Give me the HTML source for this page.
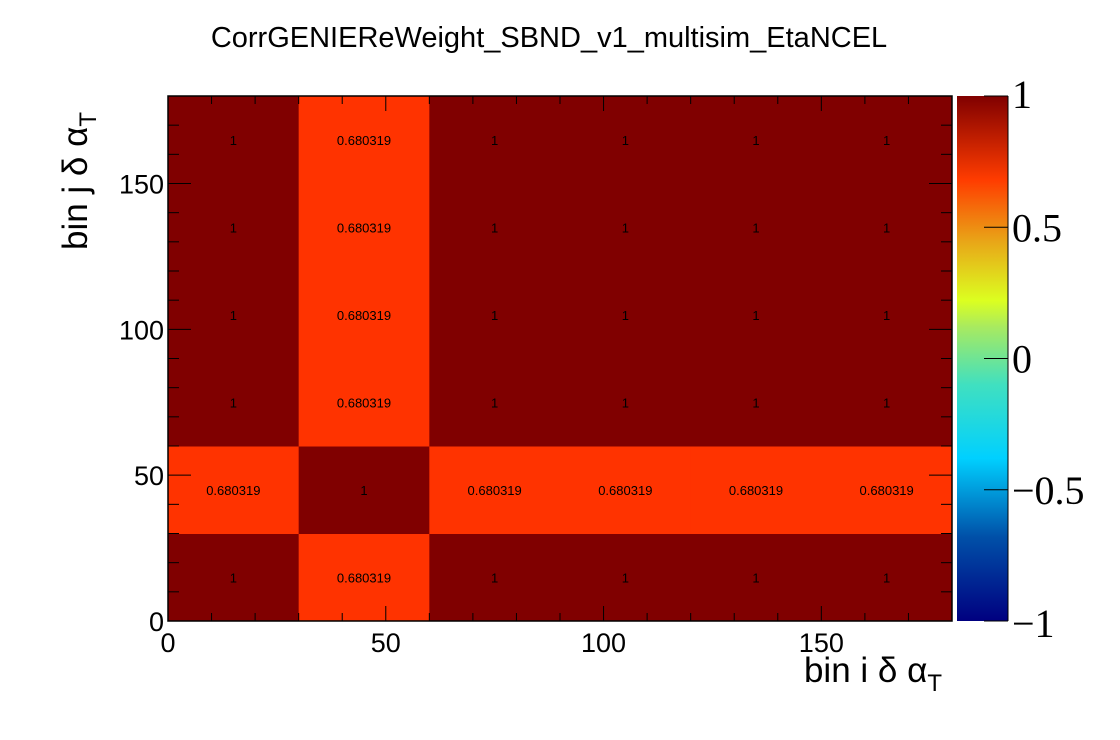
<!DOCTYPE html>
<html><head><meta charset="utf-8"><style>
body{margin:0;background:#fff;}
svg{display:block;font-family:"Liberation Sans",sans-serif;}
</style></head><body>
<svg id="c" width="1120" height="740" viewBox="0 0 1120 740">
<defs>
<linearGradient id="pal" x1="0" y1="1" x2="0" y2="0">
<stop offset="0" stop-color="#000080"/>
<stop offset="0.16" stop-color="#0050a8"/>
<stop offset="0.31" stop-color="#00d0ff"/>
<stop offset="0.45" stop-color="#40e0c0"/>
<stop offset="0.56" stop-color="#a8ea60"/>
<stop offset="0.61" stop-color="#dcff20"/>
<stop offset="0.72" stop-color="#e8a818"/>
<stop offset="0.84" stop-color="#ff3c00"/>
<stop offset="1" stop-color="#800000"/>
</linearGradient>
</defs>
<text x="549" y="47" font-size="29" text-anchor="middle">CorrGENIEReWeight_SBND_v1_multisim_EtaNCEL</text>
<g id="cells"></g>
<g id="axes"></g>
<rect x="957" y="96" width="51" height="525" fill="url(#pal)"/>
<g id="zaxis"></g>
<text x="942" y="682" font-size="35" text-anchor="end">bin i δ α<tspan font-size="24" dy="9">T</tspan></text>
<text transform="translate(87,250) rotate(-90)" font-size="35">bin j δ α<tspan font-size="24" dy="9">T</tspan></text>
</svg>
<script>
const binEdges=[0,30,60,90,120,150,180];
const corrRows=[
[1,0.680319,1,1,1,1],
[0.680319,1,0.680319,0.680319,0.680319,0.680319],
[1,0.680319,1,1,1,1],
[1,0.680319,1,1,1,1],
[1,0.680319,1,1,1,1],
[1,0.680319,1,1,1,1]];
const xTicks=[0,50,100,150];
const yTicks=[0,50,100,150];
const zTicks=[-1,-0.5,0,0.5,1];
const zLabels=["\u22121","\u22120.5","0","0.5","1"];
const X0=168,X1=952,Y0=621,Y1=96;
const sx=v=>X0+(v-0)/(180)*(X1-X0);
const sy=v=>Y0-(v-0)/(180)*(Y0-Y1);
const sz=v=>621-(v+1)/2*525;
const NS="http://www.w3.org/2000/svg";
function mk(t,a,p){const e=document.createElementNS(NS,t);for(const k in a)e.setAttribute(k,a[k]);p.appendChild(e);return e;}
function col(v){
 const st=[[0,[0,0,128]],[0.16,[0,80,168]],[0.31,[0,208,255]],[0.45,[64,224,192]],[0.56,[168,234,96]],[0.61,[220,255,32]],[0.72,[232,168,24]],[0.84,[255,51,0]],[1,[128,0,0]]];
 const f=(v+1)/2;for(let i=1;i<st.length;i++){if(f<=st[i][0]){const a=st[i-1],b=st[i],t=(f-a[0])/(b[0]-a[0]);const c=a[1].map((x,k)=>Math.round(x+(b[1][k]-x)*t));return `rgb(${c})`;}}return "rgb(128,0,0)";}
const cells=document.getElementById('cells');
corrRows.forEach((row,j)=>row.forEach((v,i)=>{
 const x=sx(binEdges[i]),x2=sx(binEdges[i+1]),y=sy(binEdges[j+1]),y2=sy(binEdges[j]);
 const fill=v>0.9?'#800000':(Math.abs(v-0.68)<0.05?'#ff3300':col(v));
 const r=mk('rect',{x:x,y:y,width:x2-x+0.5,height:y2-y+0.5,fill:fill},cells);
 
 
 const t=mk('text',{x:(x+x2)/2,y:(y+y2)/2+5,'font-size':13,'text-anchor':'middle'},cells);
 t.textContent=String(v);
 
 
}));
const ax=document.getElementById('axes');
mk('rect',{x:X0,y:Y1,width:X1-X0,height:Y0-Y1,fill:'none',stroke:'#000','stroke-width':1.5},ax);
for(let v=0;v<=180;v+=10){const x=sx(v),L=v%50===0?15:8;
 mk('line',{x1:x,y1:Y0,x2:x,y2:Y0-L,stroke:'#000'},ax);mk('line',{x1:x,y1:Y1,x2:x,y2:Y1+L,stroke:'#000'},ax);
 const y=sy(v),M=v%50===0?23:11;
 mk('line',{x1:X0,y1:y,x2:X0+M,y2:y,stroke:'#000'},ax);mk('line',{x1:X1,y1:y,x2:X1-M,y2:y,stroke:'#000'},ax);}
xTicks.forEach(v=>{const t=mk('text',{x:sx(v),y:652,'font-size':27,'text-anchor':'middle'},ax);t.textContent=v;
 
 });
yTicks.forEach(v=>{const t=mk('text',{x:164,y:sy(v)+10,'font-size':27,'text-anchor':'end'},ax);t.textContent=v;
 
 });
const za=document.getElementById('zaxis');
mk('line',{x1:1008,y1:96,x2:1008,y2:621,stroke:'#000'},za);
zTicks.forEach((v,i)=>{const y=sz(v);mk('line',{x1:984,y1:y,x2:1008,y2:y,stroke:'#000'},za);
 const t=mk('text',{x:1012,y:y+(i===4?12:i===0?16:14),'font-size':40,'font-family':'Liberation Serif, serif'},za);t.textContent=zLabels[i];
 
 });
</script>
</body></html>
